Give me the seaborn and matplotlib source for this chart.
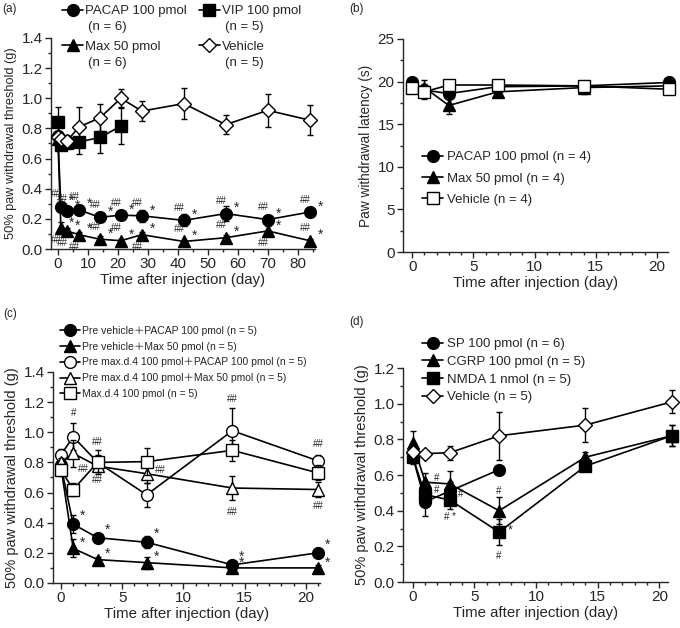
import numpy as np
import pandas as pd
import seaborn as sns
import matplotlib.pyplot as plt
from matplotlib.ticker import MultipleLocator, FormatStrFormatter

# ---- data ----
# (a) long time course
days_a = [0, 1, 3, 7, 14, 21, 28, 42, 56, 70, 84]
pacap_a = [0.75, 0.28, 0.25, 0.26, 0.21, 0.225, 0.22, 0.19, 0.235, 0.195, 0.245]
pacap_a_err = [0.03, 0.03, 0.02, 0.03, 0.02, 0.02, 0.04, 0.04, 0.05, 0.02, 0.02]
max_a = [0.73, 0.14, 0.12, 0.095, 0.065, 0.055, 0.095, 0.05, 0.075, 0.12, 0.055]
max_a_err = [0.03, 0.04, 0.02, 0.02, 0.02, 0.01, 0.02, 0.01, 0.02, 0.03, 0.01]
days_vip = [0, 1, 3, 7, 14, 21]
vip_a = [0.84, 0.69, 0.70, 0.71, 0.74, 0.815]
vip_a_err = [0.10, 0.03, 0.03, 0.08, 0.10, 0.12]
veh_a = [0.74, 0.73, 0.715, 0.81, 0.87, 1.0, 0.915, 0.965, 0.825, 0.92, 0.855]
veh_a_err = [0.02, 0.03, 0.04, 0.13, 0.09, 0.06, 0.065, 0.10, 0.065, 0.11, 0.10]
n_a = {"PACAP 100 pmol": "(n = 6)", "Max 50 pmol": "(n = 6)",
       "VIP 100 pmol": "(n = 5)", "Vehicle": "(n = 5)"}

# (b) thermal latency
days_b = [0, 1, 3, 7, 14, 21]
pacap_b = [19.9, 19.0, 18.6, 19.4, 19.5, 19.9]
pacap_b_err = [0.3, 0.5, 0.6, 0.4, 0.4, 0.3]
max_b = [19.6, 19.3, 17.2, 18.8, 19.3, 19.5]
max_b_err = [0.4, 0.9, 1.0, 0.4, 0.8, 0.3]
veh_b = [19.3, 18.8, 19.6, 19.6, 19.5, 19.1]
veh_b_err = [0.3, 0.9, 0.3, 0.3, 0.3, 0.3]

# (c) pretreatment
days_c = [0, 1, 3, 7, 14, 21]
pv_pacap = [0.78, 0.39, 0.30, 0.27, 0.12, 0.20]
pv_pacap_err = [0.03, 0.06, 0.02, 0.04, 0.02, 0.03]
pv_max = [0.77, 0.23, 0.155, 0.135, 0.10, 0.10]
pv_max_err = [0.03, 0.06, 0.02, 0.04, 0.01, 0.02]
pm_pacap = [0.85, 0.97, 0.80, 0.585, 1.01, 0.81]
pm_pacap_err = [0.04, 0.09, 0.05, 0.08, 0.15, 0.04]
pm_max = [0.80, 0.86, 0.775, 0.725, 0.63, 0.62]
pm_max_err = [0.03, 0.09, 0.04, 0.06, 0.08, 0.05]
maxd4 = [0.75, 0.62, 0.80, 0.805, 0.88, 0.73]
maxd4_err = [0.04, 0.04, 0.08, 0.09, 0.07, 0.05]

# (d) other peptides
days_d = [0, 1, 3, 7, 14, 21]
days_sp = [0, 1, 3, 7]
sp_d = [0.70, 0.45, 0.51, 0.63]
sp_d_err = [0.03, 0.08, 0.05, 0.02]
cgrp_d = [0.78, 0.56, 0.55, 0.40, 0.70, 0.82]
cgrp_d_err = [0.065, 0.05, 0.07, 0.075, 0.03, 0.06]
nmda_d = [0.70, 0.49, 0.46, 0.28, 0.65, 0.82]
nmda_d_err = [0.04, 0.05, 0.05, 0.075, 0.02, 0.06]
veh_d = [0.73, 0.72, 0.725, 0.82, 0.88, 1.01]
veh_d_err = [0.02, 0.02, 0.04, 0.135, 0.095, 0.065]

sns.set_style("ticks")
plt.rcParams["font.family"] = ["Liberation Sans", "Noto Sans CJK SC"]
plt.rcParams["xtick.direction"] = "out"
plt.rcParams["ytick.direction"] = "out"

W, H = 680, 628
fig = plt.figure(figsize=(6.8, 6.28), dpi=100)
ax_a = fig.add_axes([0.075, 0.6035, 0.388, 0.336])
ax_b = fig.add_axes([0.5926, 0.5987, 0.3897, 0.3392])
ax_c = fig.add_axes([0.0779, 0.0717, 0.3926, 0.336])
ax_d = fig.add_axes([0.5926, 0.0732, 0.3897, 0.3408])

STYLE = {
    "fc": dict(marker="o", markerfacecolor="black", markersize=8.5),
    "ft": dict(marker="^", markerfacecolor="black", markersize=8.5),
    "fs": dict(marker="s", markerfacecolor="black", markersize=8.5),
    "oc": dict(marker="o", markerfacecolor="white", markersize=8.5),
    "ot": dict(marker="^", markerfacecolor="white", markersize=8.5),
    "os": dict(marker="s", markerfacecolor="white", markersize=8.5),
    "od": dict(marker="D", markerfacecolor="white", markersize=7.5),
}


def series(ax, x, y, err, style, label, z):
    ax.errorbar(x, y, yerr=err, fmt="none", ecolor="black", elinewidth=1.0,
                capsize=2.5, capthick=1.0, zorder=z - 0.5, clip_on=False)
    sns.lineplot(x=x, y=y, ax=ax, color="black", linewidth=1.2,
                 markeredgecolor="black", markeredgewidth=1.0, label=label,
                 zorder=z, clip_on=False, **STYLE[style])


def mark(ax, x, y, txt, dx, dy, size=7, ha="center"):
    ax.annotate(txt, xy=(x, y), xytext=(dx, dy), textcoords="offset points",
                ha=ha, va="center", fontsize=size, zorder=10,
                annotation_clip=False)


def style_axes(ax, xlim, ylim, xmaj, xmin, ymaj, ymin, yfmt, ylabel, ysize):
    ax.set_xlim(*xlim)
    ax.set_ylim(*ylim)
    ax.xaxis.set_major_locator(MultipleLocator(xmaj))
    ax.xaxis.set_minor_locator(MultipleLocator(xmin))
    ax.yaxis.set_major_locator(MultipleLocator(ymaj))
    ax.yaxis.set_minor_locator(MultipleLocator(ymin))
    ax.yaxis.set_major_formatter(FormatStrFormatter(yfmt))
    ax.tick_params(which="major", length=4, width=1, labelsize=11, pad=2)
    ax.tick_params(which="minor", length=2.5, width=1)
    for s in ("left", "bottom"):
        ax.spines[s].set_linewidth(1.0)
    sns.despine(ax=ax)
    ax.set_xlabel("Time after injection (day)", fontsize=10.8, labelpad=1)
    ax.set_ylabel(ylabel, fontsize=ysize, labelpad=3)


def place_legend(ax, px, py, **kw):
    # px, py: upper-left corner of the legend in picture pixels
    return ax.legend(loc="upper left", bbox_to_anchor=(px / W, 1 - py / H),
                     bbox_transform=fig.transFigure, frameon=False,
                     borderpad=0, borderaxespad=0, **kw)


# ---- (a) ----
series(ax_a, days_a, pacap_a, pacap_a_err, "fc", "PACAP 100 pmol", 3)
series(ax_a, days_a, max_a, max_a_err, "ft", "Max 50 pmol", 3)
series(ax_a, days_vip, vip_a, vip_a_err, "fs", "VIP 100 pmol", 4)
series(ax_a, days_a, veh_a, veh_a_err, "od", "Vehicle", 5)
for d, v in zip(days_a[1:], pacap_a[1:]):
    mark(ax_a, d, v, "##", -3, 9, 7)
    mark(ax_a, d, v, "*", 6, 4, 10, "left")
max_hash = ["b", "b", "b", "a", "a", "b", "a", "a", "b", "a"]
for d, v, p in zip(days_a[1:], max_a[1:], max_hash):
    mark(ax_a, d, v, "##", -3, 9 if p == "a" else -9, 7)
    mark(ax_a, d, v, "*", 6, 4, 10, "left")
style_axes(ax_a, (-2.3, 85.7), (0, 1.4), 10, 5, 0.2, 0.1, "%.1f",
           "50% paw withdrawal threshold (g)", 9.2)
leg_a = place_legend(ax_a, 62, 5, ncol=2, fontsize=9.5, handlelength=1.6,
                     handletextpad=0.15, columnspacing=0.9, labelspacing=1.75)

# ---- (b) ----
series(ax_b, days_b, pacap_b, pacap_b_err, "fc", "PACAP 100 pmol (n = 4)", 3)
series(ax_b, days_b, max_b, max_b_err, "ft", "Max 50 pmol (n = 4)", 4)
series(ax_b, days_b, veh_b, veh_b_err, "os", "Vehicle (n = 4)", 5)
style_axes(ax_b, (-0.75, 20.9), (0, 25), 5, 1, 5, 2.5, "%d",
           "Paw withdrawal latency (s)", 9.8)
place_legend(ax_b, 422, 151, fontsize=9.5, handlelength=1.6,
             handletextpad=0.3, labelspacing=0.69)

# ---- (c) ----
series(ax_c, days_c, pv_pacap, pv_pacap_err, "fc",
       "Pre vehicle＋PACAP 100 pmol (n = 5)", 3)
series(ax_c, days_c, pv_max, pv_max_err, "ft",
       "Pre vehicle＋Max 50 pmol (n = 5)", 4)
series(ax_c, days_c, pm_pacap, pm_pacap_err, "oc",
       "Pre max.d.4 100 pmol＋PACAP 100 pmol (n = 5)", 5)
series(ax_c, days_c, pm_max, pm_max_err, "ot",
       "Pre max.d.4 100 pmol＋Max 50 pmol (n = 5)", 6)
series(ax_c, days_c, maxd4, maxd4_err, "os", "Max.d.4 100 pmol (n = 5)", 7)
for d, v in zip(days_c[1:], pv_pacap[1:]):
    mark(ax_c, d, v, "*", 5, 6, 10, "left")
for d, v in zip(days_c[1:], pv_max[1:]):
    mark(ax_c, d, v, "*", 5, 4, 10, "left")
mark(ax_c, days_c[1], pm_pacap[1], "#", 0, 17, 7)
mark(ax_c, days_c[4], pm_pacap[4], "##", 0, 23, 7)
mark(ax_c, days_c[5], pm_pacap[5], "##", 0, 12, 7)
mark(ax_c, days_c[1], pm_max[1], "##", 7, -11, 7)
mark(ax_c, days_c[2], pm_max[2], "##", 0, -10, 7)
mark(ax_c, days_c[3], pm_max[3], "##", 10, 3, 7)
mark(ax_c, days_c[4], pm_max[4], "##", 0, -17, 7)
mark(ax_c, days_c[5], pm_max[5], "##", 0, -12, 7)
mark(ax_c, days_c[2], maxd4[2], "##", 0, 15, 7)
style_axes(ax_c, (-0.65, 21.15), (0, 1.4), 5, 1, 0.2, 0.1, "%.1f",
           "50% paw withdrawal threshold (g)", 10.5)
place_legend(ax_c, 60, 326, fontsize=7.5, handlelength=1.9,
             handletextpad=0.2, labelspacing=0.55)

# ---- (d) ----
series(ax_d, days_sp, sp_d, sp_d_err, "fc", "SP 100 pmol (n = 6)", 3)
series(ax_d, days_d, cgrp_d, cgrp_d_err, "ft", "CGRP 100 pmol (n = 5)", 4)
series(ax_d, days_d, nmda_d, nmda_d_err, "fs", "NMDA 1 nmol (n = 5)", 5)
series(ax_d, days_d, veh_d, veh_d_err, "od", "Vehicle (n = 5)", 6)
mark(ax_d, days_d[1], cgrp_d[1], "#", 8, 3, 7)
mark(ax_d, days_d[1], nmda_d[1], "#", 8, 3, 7)
mark(ax_d, days_d[2], nmda_d[2], "#", 8, 4, 7)
mark(ax_d, days_d[2], nmda_d[2], "# *", 0, -12, 7)
mark(ax_d, days_d[3], cgrp_d[3], "#", 0, 14, 7)
mark(ax_d, days_d[3], nmda_d[3], "*", 6, 1, 9, "left")
mark(ax_d, days_d[3], nmda_d[3], "#", 0, -17, 7)
style_axes(ax_d, (-0.8, 20.7), (0, 1.2), 5, 1, 0.2, 0.1, "%.1f",
           "50% paw withdrawal threshold (g)", 10.5)
place_legend(ax_d, 422, 338, fontsize=9.5, handlelength=1.6,
             handletextpad=0.3, labelspacing=0.41)

for txt, x, y in [("(a)", 0.003, 0.985), ("(b)", 0.513, 0.985),
                  ("(c)", 0.005, 0.5), ("(d)", 0.513, 0.487)]:
    fig.text(x, y, txt, fontsize=8.5, va="center", ha="left")

# second line "(n = x)" under each entry of legend (a)
fig.canvas.draw()
for t in leg_a.get_texts():
    bb = t.get_window_extent()
    fig.text((bb.x0 + 3) / W, ((bb.y0 + bb.y1) / 2 - 16) / H,
             n_a[t.get_text()], fontsize=9.5, va="center", ha="left")

fig.savefig("out.png", dpi=100)
